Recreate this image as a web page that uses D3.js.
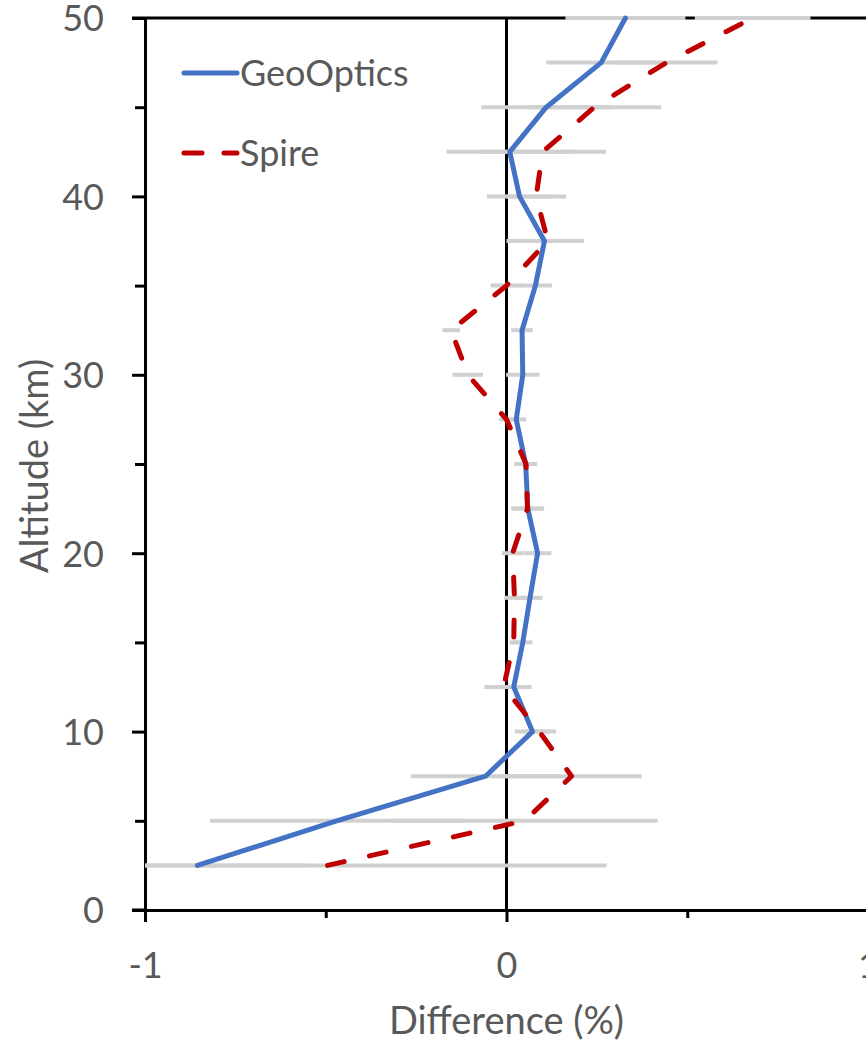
<!DOCTYPE html>
<html>
<head>
<meta charset="utf-8">
<script src="https://cdn.jsdelivr.net/npm/d3@7"></script>
<style>
  body { margin: 0; background: #fff; }
  svg text { font-family: Lato, "Open Sans", sans-serif; fill: #595959; }
</style>
</head>
<body>
<div class="chart"></div>
<script>
// altitude levels (km)
var altitudes = [2.5, 5, 7.5, 10, 12.5, 15, 17.5, 20, 22.5, 25,
                 27.5, 30, 32.5, 35, 37.5, 40, 42.5, 45, 47.5, 50];
// mean difference (%) per level
var geoOptics = [-0.855, -0.47, -0.058, 0.072, 0.02, 0.045, 0.065, 0.086, 0.059, 0.053,
                 0.027, 0.045, 0.043, 0.08, 0.105, 0.036, 0.009, 0.11, 0.262, 0.329];
var spire = [-0.495, 0.05, 0.18, 0.091, -0.008, 0.02, 0.022, 0.017, 0.058, 0.054,
             0.0, -0.107, -0.153, 0.0, 0.114, 0.082, 0.1, 0.243, 0.442, 0.681];
// error bar half-widths (%)
var geoOpticsErr = [0.3, 0.35, 0.207, 0.049, 0.049, 0.027, 0.035, 0.038, 0.045, 0.032,
                    0.028, 0.046, 0.03, 0.046, 0.105, 0.09, 0.175, 0.18, 0.152, 0.166];
var spireErr = [0.772, 0.368, 0.194, 0.046, 0.053, 0.011, 0.028, 0.03, 0.045, 0.03,
                0.02, 0.042, 0.024, 0.044, 0.1, 0.083, 0.175, 0.185, 0.142, 0.16];

var xMajor = [-1, 0, 1],
    xMinor = [-0.5, 0.5],
    yMajor = [0, 10, 20, 30, 40, 50],
    yMinor = [5, 15, 25, 35, 45];

var series = [
  {name: 'GeoOptics', values: geoOptics, err: geoOpticsErr, colour: '#4472c4', dash: null},
  {name: 'Spire', values: spire, err: spireErr, colour: '#c00000', dash: '17,26'}
];

var w = 866, h = 1040,
    plot_left = 145, plot_right = 868, plot_top = 18, plot_bottom = 910,
    font_size = 36,
    title_size = 38;

var x = d3.scaleLinear().domain([-1, 1]).range([plot_left, plot_right]);
var y = d3.scaleLinear().domain([0, 50]).range([plot_bottom, plot_top]);
var fmt = function(d) { return String(d); };

var svg = d3.select('.chart').append('svg')
    .attr('width', w)
    .attr('height', h);

// top border line
svg.append('line')
  .attr('x1', plot_left - 13).attr('x2', w)
  .attr('y1', plot_top).attr('y2', plot_top)
  .attr('stroke', '#000').attr('stroke-width', 3);

// zero line
svg.append('line')
  .attr('x1', x(0)).attr('x2', x(0))
  .attr('y1', plot_top).attr('y2', plot_bottom)
  .attr('stroke', '#000').attr('stroke-width', 3);

// y axis
var yAxis = svg.append('g')
  .attr('transform', 'translate(' + plot_left + ',0)')
  .call(d3.axisLeft(y).tickValues(yMajor).tickSize(13).tickSizeOuter(0).tickPadding(28).tickFormat(fmt));
svg.append('g')
  .attr('transform', 'translate(' + plot_left + ',0)')
  .call(d3.axisLeft(y).tickValues(yMinor).tickSize(10).tickSizeOuter(0).tickFormat(''));

// x axis
var xAxis = svg.append('g')
  .attr('transform', 'translate(0,' + plot_bottom + ')')
  .call(d3.axisBottom(x).tickValues(xMajor).tickSize(12).tickSizeOuter(0).tickFormat(fmt));
svg.append('g')
  .attr('transform', 'translate(0,' + plot_bottom + ')')
  .call(d3.axisBottom(x).tickValues(xMinor).tickSize(8).tickSizeOuter(0).tickFormat(''));

svg.selectAll('.domain').attr('stroke', '#000').attr('stroke-width', 3);
svg.selectAll('.tick line').attr('stroke', '#000').attr('stroke-width', 3);

// extend the x axis line to the left tick
svg.append('line')
  .attr('x1', plot_left - 13).attr('x2', plot_left)
  .attr('y1', plot_bottom).attr('y2', plot_bottom)
  .attr('stroke', '#000').attr('stroke-width', 3);

yAxis.selectAll('text')
  .style('font-size', font_size + 'px')
  .attr('dy', '0.36em')
  .style('fill', '#595959');
xAxis.selectAll('text')
  .style('font-size', font_size + 'px')
  .attr('y', 68).attr('dy', 0)
  .style('fill', '#595959');

// error bars
series.forEach(function(s) {
  svg.append('g').selectAll('line')
    .data(altitudes)
    .enter().append('line')
    .attr('x1', function(d, i) { return x(Math.max(-1, s.values[i] - s.err[i])); })
    .attr('x2', function(d, i) { return x(Math.min(1, s.values[i] + s.err[i])); })
    .attr('y1', function(d) { return y(d); })
    .attr('y2', function(d) { return y(d); })
    .attr('stroke', '#d0d0d0')
    .attr('stroke-width', 4);
});

// profile lines
series.forEach(function(s) {
  var line = d3.line()
    .x(function(d, i) { return x(s.values[i]); })
    .y(function(d) { return y(d); });
  svg.append('path')
    .datum(altitudes)
    .attr('d', line)
    .attr('fill', 'none')
    .attr('stroke', s.colour)
    .attr('stroke-width', 5)
    .attr('stroke-linecap', 'round')
    .attr('stroke-linejoin', 'round')
    .attr('stroke-dasharray', s.dash);
});

// legend
var legend = svg.append('g');
series.forEach(function(s, i) {
  var ly = 73 + i * 80;
  legend.append('line')
    .attr('x1', 184).attr('x2', 237)
    .attr('y1', ly).attr('y2', ly)
    .attr('stroke', s.colour)
    .attr('stroke-width', 5)
    .attr('stroke-linecap', 'round')
    .attr('stroke-dasharray', s.dash ? '18,22' : null);
  legend.append('text')
    .attr('x', 240)
    .attr('y', ly + 13)
    .style('font-size', font_size + 'px')
    .text(s.name);
});

// axis titles
svg.append('text')
  .attr('x', x(0))
  .attr('y', 1034)
  .attr('text-anchor', 'middle')
  .style('font-size', title_size + 'px')
  .text('Difference (%)');

svg.append('text')
  .attr('transform', 'translate(48,466) rotate(-90)')
  .attr('text-anchor', 'middle')
  .style('font-size', title_size + 'px')
  .text('Altitude (km)');
</script>
</body>
</html>
